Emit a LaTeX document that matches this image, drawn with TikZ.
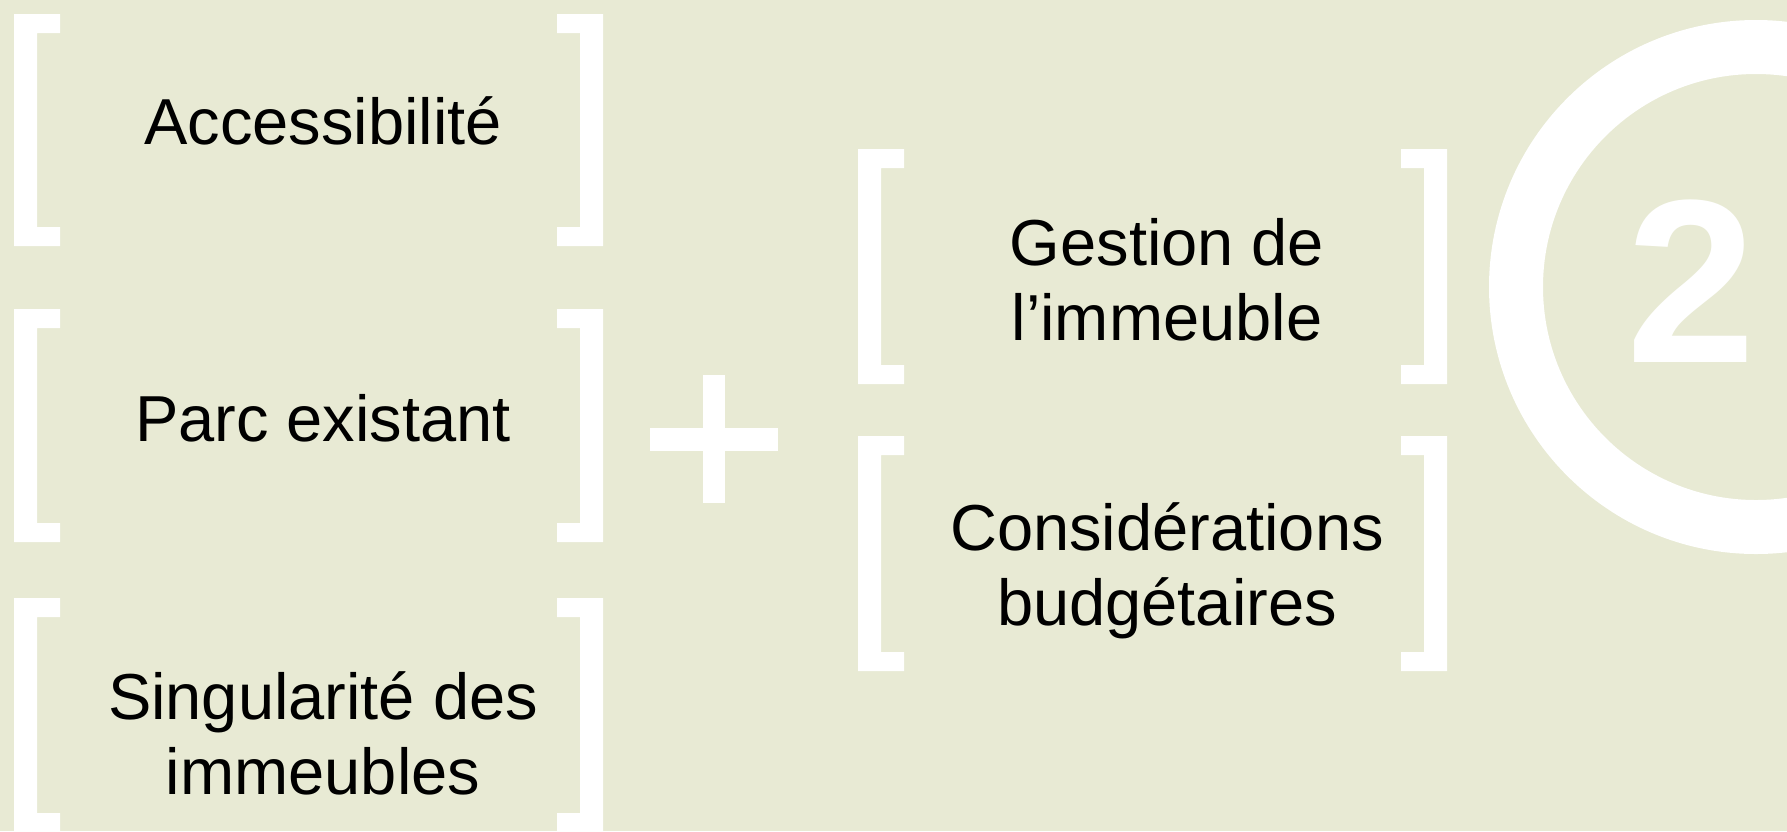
\documentclass[tikz,border=0pt]{standalone}
\usepackage{fontspec}
\setmainfont{Liberation Sans}
\definecolor{sage}{RGB}{232,234,212}

\tikzset{
  bracket/.style={fill=white},
  itemtext/.style={font=\fontsize{65}{75}\selectfont, align=center, anchor=base, inner sep=0pt}
}

\begin{document}
\begin{tikzpicture}[x=1pt,y=-1pt]
  \fill[sage] (0,0) rectangle (1787,831);
  \clip (0,0) rectangle (1787,831);
  % left and right brackets round each item
  \foreach \xa/\xb/\ya/\yb in {14/603/14/246, 14/603/309/542, 14/603/598/832, 858/1447/149/384, 858/1447/436/671}{
    \fill[bracket] (\xa,\ya) -- (\xa+46,\ya) -- (\xa+46,\ya+19) -- (\xa+23,\ya+19) -- (\xa+23,\yb-19) -- (\xa+46,\yb-19) -- (\xa+46,\yb) -- (\xa,\yb) -- cycle;
    \fill[bracket] (\xb,\ya) -- (\xb-46,\ya) -- (\xb-46,\ya+19) -- (\xb-23,\ya+19) -- (\xb-23,\yb-19) -- (\xb-46,\yb-19) -- (\xb-46,\yb) -- (\xb,\yb) -- cycle;
  }
  \node[itemtext] (access) at (323,144) {Accessibilité};
  \node[itemtext] (parc) at (323,441) {Parc existant};
  \node[itemtext] (singul) at (323,794) {Singularité des\\immeubles};
  \node[itemtext] (gestion) at (1167,340) {Gestion de\\l’immeuble};
  \node[itemtext] (budget) at (1167,625) {Considérations\\budgétaires};
  % plus sign
  \fill[white] (703,375) rectangle (725,503);
  \fill[white] (650,428) rectangle (778,451);
  % step number
  \draw[white, line width=54pt] (1756,287) circle [radius=240pt];
  \node[font=\bfseries\fontsize{233}{233}\selectfont, text=white, anchor=base, inner sep=0pt] (step) at (1691,362) {2};
\end{tikzpicture}
\end{document}
